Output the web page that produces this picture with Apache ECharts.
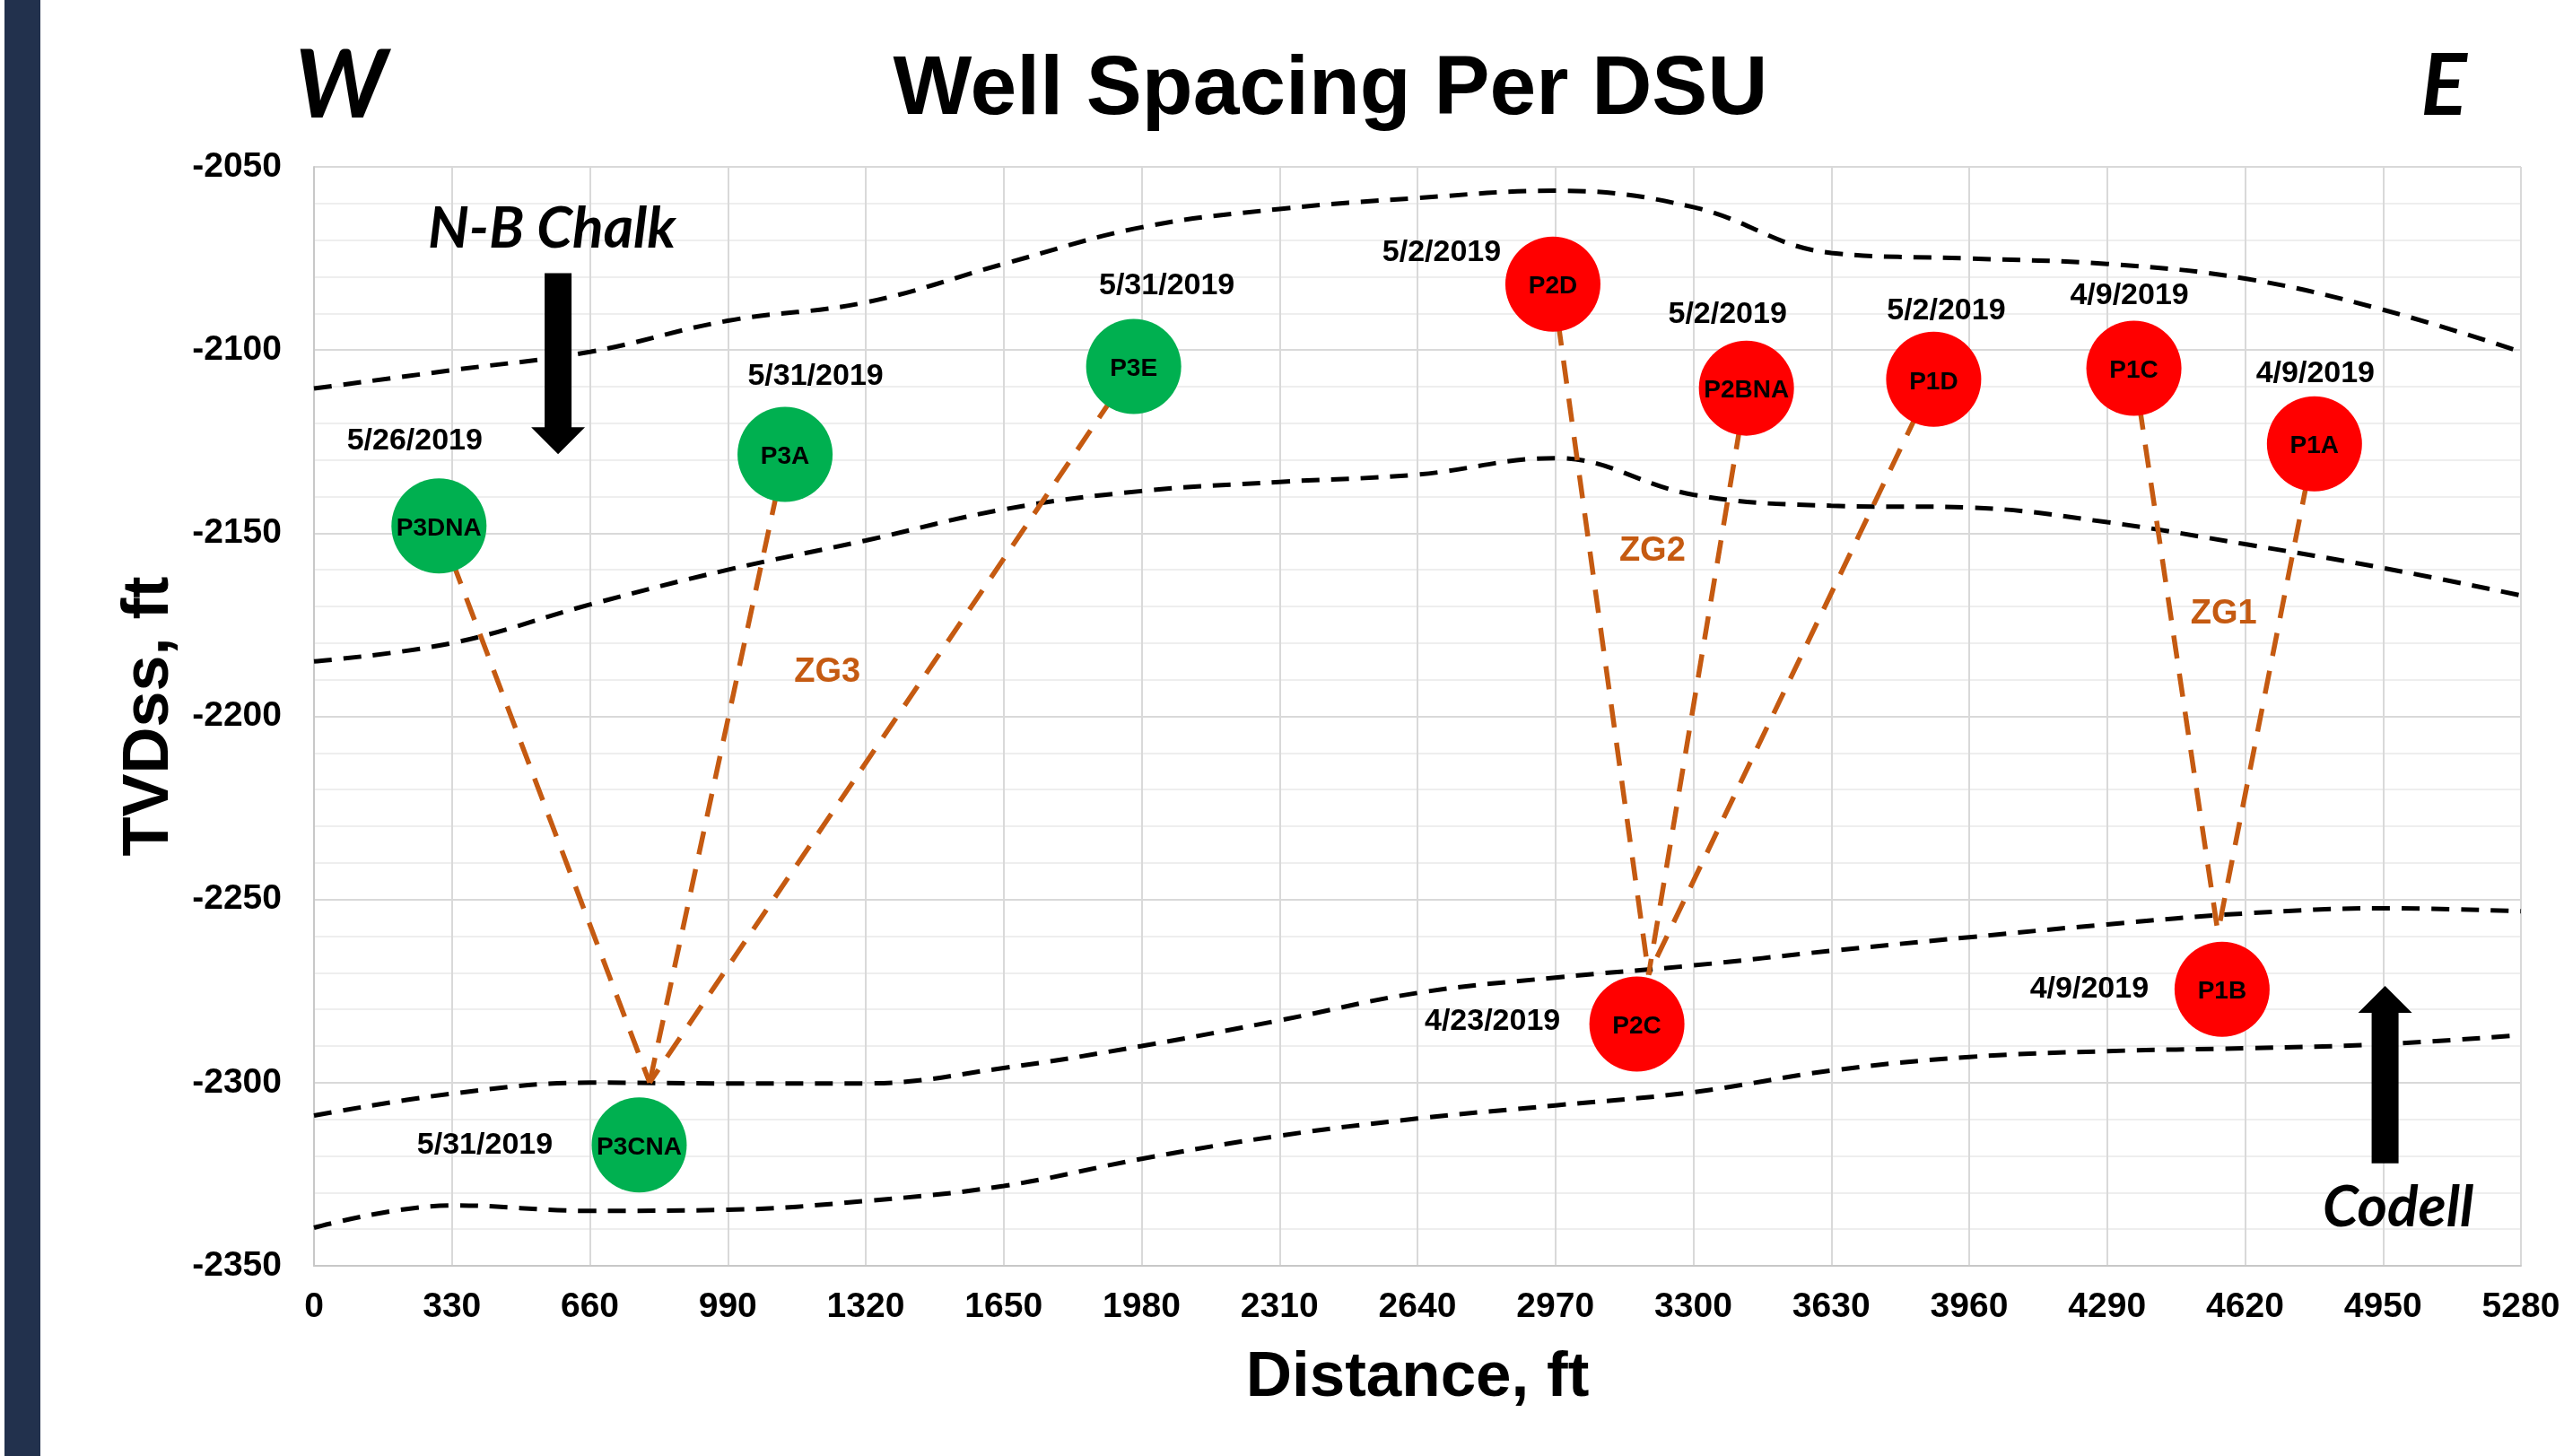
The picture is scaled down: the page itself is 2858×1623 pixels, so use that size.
<!DOCTYPE html>
<html>
<head>
<meta charset="utf-8">
<title>Well Spacing Per DSU</title>
<script src="https://cdn.jsdelivr.net/npm/echarts@6.0.0/dist/echarts.min.js"></script>
<style>
  html, body { margin: 0; padding: 0; background: #fff; }
  #chart { width: 2858px; height: 1623px; }
</style>
</head>
<body>
<div id="chart"></div>
<script>
// axes (ft)
const distTicks = [0, 330, 660, 990, 1320, 1650, 1980, 2310, 2640, 2970, 3300, 3630, 3960, 4290, 4620, 4950, 5280]
const depthTicks = [-2350, -2300, -2250, -2200, -2150, -2100, -2050]

// wells: circle centers (distance, TVDss) and dates
const wellNames = ['P3DNA', 'P3A', 'P3E', 'P3CNA', 'P2D', 'P2BNA', 'P1D', 'P1C', 'P1A', 'P2C', 'P1B']
const wellDist = [299, 1127, 1961, 778, 2964, 3427, 3875, 4354, 4786, 3165, 4565]
const wellDepth = [-2148, -2128.5, -2104.5, -2317, -2082, -2110.4, -2108, -2105, -2125.6, -2284, -2274.5]
const wellDates = ['5/26/2019', '5/31/2019', '5/31/2019', '5/31/2019', '5/2/2019', '5/2/2019', '5/2/2019',
  '4/9/2019', '4/9/2019', '4/23/2019', '4/9/2019']

// formation boundaries, sampled at every distance tick
const topChalk = [-2110.5, -2105.5, -2100.5, -2092, -2087, -2076.5, -2066.5, -2061.5, -2058.5, -2056.5,
  -2061, -2073.5, -2075, -2076.5, -2080.5, -2089, -2100.5]
const midChalk = [-2185, -2180, -2169.5, -2160, -2152, -2143.5, -2138.5, -2136, -2134, -2129.5,
  -2139.5, -2142.5, -2143, -2147, -2153, -2159.5, -2167]
const topCodell = [-2309, -2303, -2300, -2300.2, -2300.2, -2296, -2290, -2283, -2275.5, -2271.3,
  -2268, -2264, -2260.3, -2256.8, -2253.8, -2252.4, -2253.2]
const baseCodell = [-2339.6, -2333.5, -2335, -2334.7, -2332.3, -2328.2, -2320.8, -2314.5, -2309.8, -2306.2,
  -2302.6, -2296.7, -2293, -2291.4, -2290.6, -2289.5, -2287]

// zipper groups: upper wells tie down to a base point
const zoneNames = ['ZG3', 'ZG2', 'ZG1']
const zoneWells = [['P3DNA', 'P3A', 'P3E'], ['P2D', 'P2BNA', 'P1D'], ['P1C', 'P1A']]
const zoneBaseDist = [803, 3193, 4555]
const zoneBaseDepth = [-2300, -2270.5, -2259]
const zoneLabelDist = [1228, 3202, 4569]
const zoneLabelDepth = [-2188, -2155, -2172]

// formation arrows and their names
const arrowNames = ['N-B Chalk', 'Codell']
const arrowDist = [584, 4955]
const arrowTail = [-2079, -2322]
const arrowTip = [-2128.4, -2273.6]
const arrowLabelDist = [569, 4986]
const arrowLabelDepth = [-2067, -2334.2]

const ARIAL = '"Liberation Sans", Arial, sans-serif'
const ITALIC = 'Lato, "Open Sans", sans-serif'
const ORANGE = '#c55a11'

// date label placement relative to the circle center (px)
const dateOffset = {
  P3DNA: [-27, -95], P3A: [34, -87], P3E: [37, -90], P3CNA: [-172, 0], P2D: [-124, -35],
  P2BNA: [-21, -82], P1D: [14, -76], P1C: [-5, -81], P1A: [1, -78], P2C: [-161, -3], P1B: [-148, 0]
}

function curveSeries(values) {
  return {
    type: 'line',
    data: values.map((v, i) => [distTicks[i], v]),
    smooth: 0.4,
    showSymbol: false,
    silent: true,
    z: 2,
    lineStyle: { color: '#000', width: 5, type: [20, 13] }
  }
}

// dashed tie lines from each upper well to the group base point
const tieSeries = []
zoneWells.forEach((names, z) => {
  names.forEach(n => {
    const i = wellNames.indexOf(n)
    tieSeries.push({
      type: 'line',
      data: [[wellDist[i], wellDepth[i]], [zoneBaseDist[z], zoneBaseDepth[z]]],
      showSymbol: false,
      silent: true,
      z: 3,
      lineStyle: { color: ORANGE, width: 5.5, type: [26, 17] }
    })
  })
})

function renderArrow(params, api) {
  const tail = api.coord([api.value(0), api.value(1)])
  const tip = api.coord([api.value(0), api.value(2)])
  const x = tip[0]
  const dir = tip[1] > tail[1] ? 1 : -1
  const shaft = 15
  const head = 30
  const base = tip[1] - dir * 30
  return {
    type: 'polygon',
    shape: {
      points: [[x - shaft, tail[1]], [x + shaft, tail[1]], [x + shaft, base], [x + head, base],
        [x, tip[1]], [x - head, base], [x - shaft, base]]
    },
    style: { fill: '#000' }
  }
}

// plain text labels placed at a data point
function textLabel(font) {
  return Object.assign({
    show: true,
    position: 'inside',
    formatter: p => p.name,
    color: '#000',
    textBorderWidth: 0
  }, font)
}

// invisible anchor series that only carries text
function textSeries(data, font) {
  return {
    type: 'scatter',
    symbolSize: 0,
    z: 6,
    silent: true,
    itemStyle: { opacity: 1 },
    data: data,
    label: textLabel(font)
  }
}

const chart = echarts.init(document.getElementById('chart'))

const option = {
  backgroundColor: '#fff',
  animation: false,
  title: {
    text: 'Well Spacing Per DSU',
    left: 1483,
    top: 55,
    padding: 0,
    textAlign: 'center',
    textStyle: { fontFamily: ARIAL, fontWeight: 'bold', fontSize: 93, color: '#000' }
  },
  graphic: [
    { type: 'rect', shape: { x: 5, y: 0, width: 40, height: 1623 }, style: { fill: '#22314d' } },
    {
      type: 'text', x: 380, y: 97,
      style: { text: 'W', fontFamily: ITALIC, fontStyle: 'italic', fontWeight: 'bold', fontSize: 106, fill: '#000', align: 'center', verticalAlign: 'middle' }
    },
    {
      type: 'text', x: 2724, y: 97,
      style: { text: 'E', fontFamily: ITALIC, fontStyle: 'italic', fontWeight: 'bold', fontSize: 96, fill: '#000', align: 'center', verticalAlign: 'middle' }
    }
  ],
  grid: { left: 350, right: 48, top: 186, bottom: 212, containLabel: false },
  xAxis: {
    type: 'value',
    min: distTicks[0],
    max: distTicks[distTicks.length - 1],
    interval: 330,
    name: 'Distance, ft',
    nameLocation: 'middle',
    nameGap: 90,
    nameTextStyle: { fontFamily: ARIAL, fontWeight: 'bold', fontSize: 71, color: '#000' },
    axisLine: { show: true, lineStyle: { color: '#c8c8c8', width: 2 } },
    axisTick: { show: false },
    axisLabel: { fontFamily: ARIAL, fontWeight: 'bold', fontSize: 39, color: '#000', margin: 27, formatter: v => String(v) },
    splitLine: { show: true, lineStyle: { color: '#d9d9d9', width: 2 } }
  },
  yAxis: {
    type: 'value',
    min: depthTicks[0],
    max: depthTicks[depthTicks.length - 1],
    interval: 50,
    name: 'TVDss, ft',
    nameLocation: 'middle',
    nameGap: 146,
    nameTextStyle: { fontFamily: ARIAL, fontWeight: 'bold', fontSize: 72, color: '#000' },
    axisLine: { show: true, lineStyle: { color: '#c8c8c8', width: 2 } },
    axisTick: { show: false },
    axisLabel: { fontFamily: ARIAL, fontWeight: 'bold', fontSize: 39, color: '#000', margin: 36, formatter: v => String(v) },
    splitLine: { show: true, lineStyle: { color: '#d9d9d9', width: 2 } },
    minorTick: { show: false, splitNumber: 5 },
    minorSplitLine: { show: true, lineStyle: { color: '#eeeeee', width: 2 } }
  },
  series: [
    curveSeries(topChalk),
    curveSeries(midChalk),
    curveSeries(topCodell),
    curveSeries(baseCodell),
    ...tieSeries,
    {
      // wells
      type: 'scatter',
      symbol: 'circle',
      symbolSize: 106,
      z: 5,
      silent: true,
      data: wellNames.map((n, i) => ({
        name: n,
        value: [wellDist[i], wellDepth[i]],
        itemStyle: { color: n.startsWith('P3') ? '#00b050' : '#ff0000', opacity: 1 }
      })),
      label: textLabel({ offset: [0, 3], fontFamily: ARIAL, fontWeight: 'bold', fontSize: 28 })
    },
    // completion dates
    textSeries(wellNames.map((n, i) => ({
      name: wellDates[i],
      value: [wellDist[i], wellDepth[i]],
      label: { offset: dateOffset[n] }
    })), { fontFamily: ARIAL, fontWeight: 'bold', fontSize: 34 }),
    // zipper group names
    textSeries(zoneNames.map((n, i) => ({ name: n, value: [zoneLabelDist[i], zoneLabelDepth[i]] })),
      { fontFamily: ARIAL, fontWeight: 'bold', fontSize: 38, color: ORANGE }),
    {
      // formation arrows
      type: 'custom',
      z: 6,
      silent: true,
      renderItem: renderArrow,
      data: arrowDist.map((d, i) => [d, arrowTail[i], arrowTip[i]])
    },
    // formation names
    textSeries(arrowNames.map((n, i) => ({ name: n, value: [arrowLabelDist[i], arrowLabelDepth[i]] })),
      { fontFamily: ITALIC, fontStyle: 'italic', fontWeight: 'bold', fontSize: 64 })
  ]
}

chart.setOption(option)
</script>
</body>
</html>
